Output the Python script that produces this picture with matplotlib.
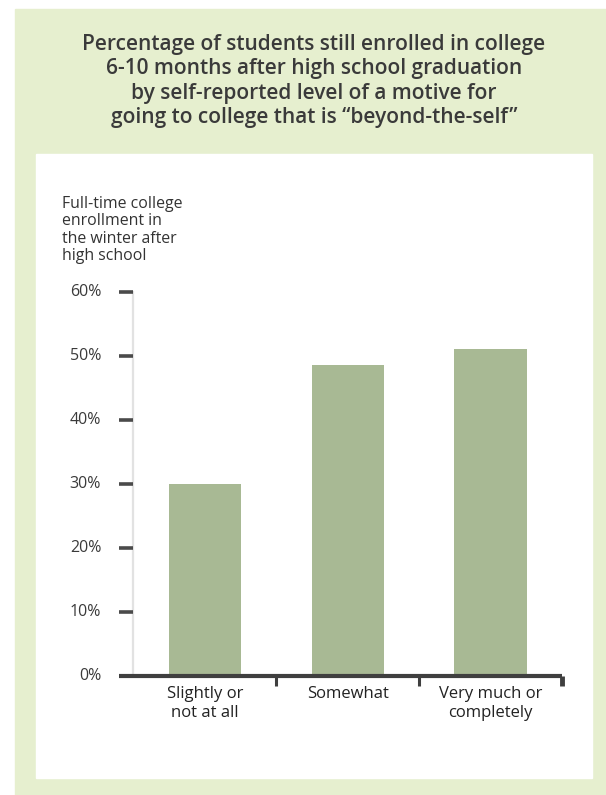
import matplotlib.pyplot as plt
from matplotlib.patches import Rectangle

# data
categories = ["Slightly or\nnot at all", "Somewhat", "Very much or\ncompletely"]
values = [30, 48.6, 51.1]
yticks = [0, 10, 20, 30, 40, 50, 60]
title = ("Percentage of students still enrolled in college\n"
         "6-10 months after high school graduation\n"
         "by self-reported level of a motive for\n"
         "going to college that is \u201cbeyond-the-self\u201d")
ylabel = "Full-time college\nenrollment in\nthe winter after\nhigh school"

W, H = 606, 795
plt.rcParams['font.family'] = ['Open Sans', 'DejaVu Sans']
fig = plt.figure(figsize=(W / 100, H / 100), dpi=100)

def px(x, y):
    # pixel coords (top-left origin) -> figure fraction
    return x / W, 1 - y / H

# background panels
fig.patches.append(Rectangle((15 / W, 0), (W - 15) / W, 1 - 9 / H,
                             transform=fig.transFigure, color="#e6efcf", zorder=-2))
fig.patches.append(Rectangle((36 / W, 1 - 778 / H), (592 - 36) / W, (778 - 154) / H,
                             transform=fig.transFigure, color="white", zorder=-1))

# title
x, y = px(314, 81)
fig.text(x, y, title, ha="center", va="center", fontsize=15, color="#3a3a3a",
         weight="semibold", linespacing=1.22)

# y label
x, y = px(62, 230)
fig.text(x, y, ylabel, ha="left", va="center", fontsize=11.4, color="#333333",
         linespacing=1.12)

# axes
l, b = px(119, 676)
r, t = px(562, 292)
ax = fig.add_axes([l, b, r - l, t - b], zorder=2)
ax.set_facecolor("none")
ax.set_xlim(-0.6, 2.5)
ax.set_ylim(0, 60)
for s in ax.spines.values():
    s.set_visible(False)
ax.set_xticks([])
ax.set_yticks([])

xs = list(range(len(categories)))
ax.bar(xs, values, width=0.505, color="#a8b994", zorder=2)

# y axis light line and tick marks
ax.plot([-0.5, -0.5], [0, 60], color="#e2e2e2", lw=1.6, zorder=1, clip_on=False)
for v in yticks:
    ax.plot([-0.6, -0.5], [v, v], color="#4a4a4a", lw=2.6, solid_capstyle="butt",
            clip_on=False, zorder=3)
    ax.text(-0.725, v, f"{v}%", ha="right", va="center", fontsize=11.5, color="#3a3a3a")

# x axis line with separators
ax.plot([-0.6, 2.5], [0, 0], color="#3f3f3f", lw=3, solid_capstyle="butt",
        clip_on=False, zorder=3)
for sep, lw in [(0.5, 2.2), (1.5, 2.2), (2.5, 3.5)]:
    ax.plot([sep, sep], [0, -1.6], color="#3f3f3f", lw=lw, solid_capstyle="butt",
            clip_on=False, zorder=3)

for xi, c in zip(xs, categories):
    ax.text(xi, -1.6, c, ha="center", va="top", fontsize=12, color="#222222",
            linespacing=1.22)

fig.savefig("out.png", dpi=100)
